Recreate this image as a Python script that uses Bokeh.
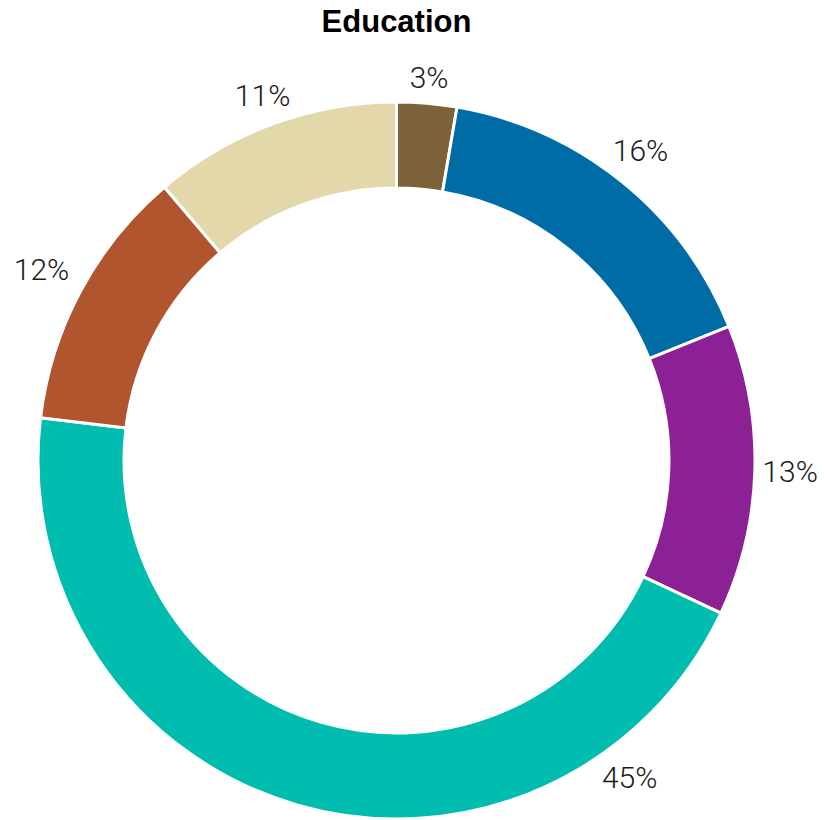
import math
from bokeh.plotting import figure
from bokeh.models import Range1d, ColumnDataSource
from bokeh.core.properties import value
from bokeh.embed import file_html
from bokeh.resources import INLINE

title_text = "Education"
shares = [2.7, 16.2, 13.1, 44.9, 11.9, 11.2]
labels = ["3%", "16%", "13%", "45%", "12%", "11%"]
colors = ["#7d613a", "#006ca6", "#8c2196", "#00bdb0", "#b1552f", "#e2d8aa"]

W, H = 824, 820
cx, cy = 396, 460          # ring centre in figure pixels from top-left
r_out, r_in = 358.5, 272.5
sep = 3

p = figure(width=W, height=H, output_backend="svg", toolbar_location=None,
           x_range=Range1d(-cx, W - cx), y_range=Range1d(-(H - cy), cy),
           x_axis_location=None, y_axis_location=None, min_border=0)
p.grid.visible = False
p.outline_line_color = None
p.background_fill_color = "white"
p.border_fill_color = "white"

total = sum(shares)
starts, ends = [], []
acc = 0.0
for s in shares:
    t1 = acc / total * 2 * math.pi
    acc += s
    t2 = acc / total * 2 * math.pi
    starts.append(math.pi / 2 - t1)
    ends.append(math.pi / 2 - t2)

src = ColumnDataSource(dict(start=starts, end=ends, color=colors))
p.annular_wedge(x=0, y=0, inner_radius=r_in, outer_radius=r_out,
                start_angle="start", end_angle="end", direction="clock",
                fill_color="color", line_color="white", line_width=sep, source=src)

# label placement: outside the ring
fs = 30
lx, ly = [], []
acc = 0.0
for s, lab in zip(shares, labels):
    span = s / total * 2 * math.pi
    th = acc / total * 2 * math.pi + min(span / 2, math.radians(28.5))
    acc += s
    sx, cyy = math.sin(th), math.cos(th)
    a = fs * (0.562 * (len(lab) - 1) + 0.733) / 2
    b = 0.58 * fs
    t = min(a / max(abs(sx), 1e-6), b / max(abs(cyy), 1e-6))
    R = r_out + 7 + t + 7 * abs(math.sin(2 * th))
    lx.append(R * sx)
    ly.append(R * cyy)

p.text(x=lx, y=ly, text=labels, text_align="center", text_baseline="middle",
       text_font=value("Roboto Light"), text_font_size=f"{fs}px",
       text_color="#1a1a1a")

p.text(x=[0], y=[cy - 21], text=[title_text], text_align="center",
       text_baseline="alphabetic", text_font=value("Liberation Sans"),
       text_font_size="31px", text_font_style="bold", text_color="black")

open("out.html", "w").write(file_html(p, INLINE))
